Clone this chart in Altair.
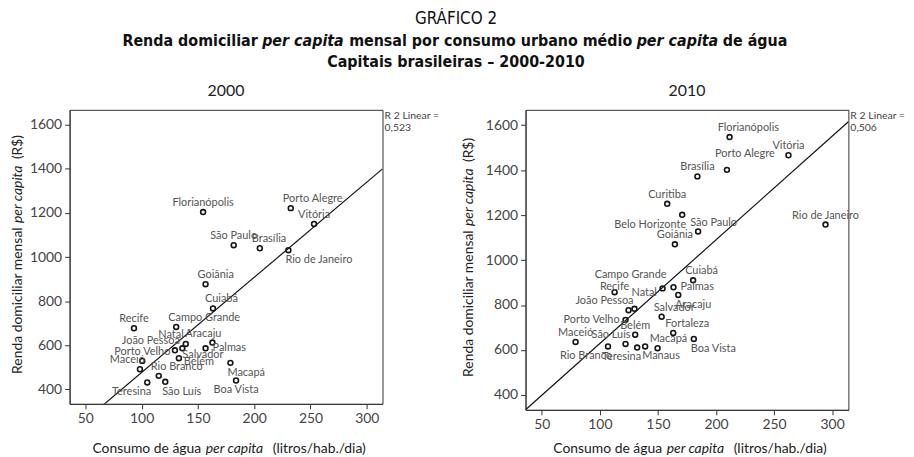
import altair as alt
import pandas as pd

# ---------------- data ----------------
cities_2000 = ["Florianópolis", "Porto Alegre", "Vitória", "São Paulo", "Brasília",
               "Rio de Janeiro", "Goiânia", "Cuiabá", "Recife", "Campo Grande",
               "Natal", "Aracaju", "João Pessoa", "Porto Velho", "Salvador", "Belém",
               "Palmas", "Maceió", "Rio Branco", "Teresina", "São Luís", "Macapá",
               "Boa Vista"]
agua_2000 = [154.6, 232.5, 253.2, 181.8, 205.0, 230.4, 156.8, 163.4, 93.2, 130.7,
             139.2, 162.9, 129.6, 100.6, 136.2, 133.1, 156.8, 98.5, 115.2, 105.0,
             121.0, 178.9, 183.9]
renda_2000 = [1204, 1222, 1150, 1054, 1040, 1031, 877, 767, 677, 683,
              606, 612, 577, 529, 586, 541, 586, 491, 461, 431,
              434, 520, 440]
pos_2000 = ["t", "tr", "t", "t", "tr", "br", "tr", "tr", "t", "tr",
            "tl0", "tl9", "tl", "t", "br0", "rd", "r", "tl", "tr", "bl",
            "br", "br", "b"]

cities_2010 = ["Florianópolis", "Vitória", "Porto Alegre", "Brasília", "Curitiba",
               "Belo Horizonte", "São Paulo", "Rio de Janeiro", "Goiânia", "Cuiabá",
               "Campo Grande", "Palmas", "Aracaju", "Recife", "João Pessoa", "Natal",
               "Salvador", "Porto Velho", "Belém", "Fortaleza", "Maceió", "Rio Branco",
               "São Luís", "Teresina", "Manaus", "Macapá", "Boa Vista"]
agua_2010 = [211.7, 262.4, 209.4, 184.0, 158.0, 170.9, 184.6, 294.3, 164.6, 180.3,
             154.0, 163.4, 167.5, 112.7, 124.7, 129.8, 153.2, 122.1, 130.4, 163.2,
             79.1, 107.0, 122.1, 132.1, 139.0, 149.7, 180.9]
renda_2010 = [1547, 1466, 1401, 1372, 1250, 1201, 1127, 1158, 1070, 910,
              874, 879, 845, 857, 777, 783, 748, 734, 668, 676,
              636, 616, 627, 611, 616, 608, 649]
pos_2010 = ["tr2", "t", "trw", "t", "t", "bl", "tr", "t", "t", "tr",
            "tlh", "r", "br", "t0", "tl", "trh", "tr", "l", "t", "tr",
            "t", "bl", "tl", "bl", "br", "tr", "br"]

# linear fit lines (value of the fitted line at the two ends of the x range)
fit_x = [36, 314]
fit_2000 = [200, 1400]
fit_2010 = [334, 1615]
r2_2000 = "0,523"
r2_2010 = "0,506"

x_domain = [36, 314]
y_domain = [334, 1668]
x_ticks = [50, 100, 150, 200, 250, 300]
y_ticks = [400, 600, 800, 1000, 1200, 1400, 1600]

FONT = "Lato"
TFONT = "DejaVu Sans Condensed"

# label placement: align, dx, dy, baseline
PLACE = {
    "t": ("center", 0, -4, "bottom"),
    "t0": ("center", 0, 0, "bottom"),
    "tr": ("left", -8, -4, "bottom"),
    "tr2": ("left", -12, -4, "bottom"),
    "trh": ("left", -3, -11, "bottom"),
    "trw": ("left", -12, -11, "bottom"),
    "tl": ("right", 5, -4, "bottom"),
    "tl0": ("right", -2, -4, "bottom"),
    "tl9": ("right", 9, -4, "bottom"),
    "tlh": ("right", 4, -8, "bottom"),
    "b": ("center", 0, 4, "top"),
    "br": ("left", -3, 4, "top"),
    "br0": ("left", 0, 1, "top"),
    "bl": ("right", 4, 4, "top"),
    "r": ("left", 7, 0, "middle"),
    "rd": ("left", 5, 4, "middle"),
    "l": ("right", -6, 0, "middle"),
}

ONE = pd.DataFrame({"a": [1]})


def txt(text, x, y, align="center", size=14, weight="normal", style="normal",
        angle=0, font=FONT, color="#222"):
    return alt.Chart(ONE).mark_text(
        text=text, align=align, baseline="middle", fontSize=size, fontWeight=weight,
        fontStyle=style, angle=angle, font=font, color=color).encode(
        x=alt.value(x), y=alt.value(y))


def panel(cities, agua, renda, pos, fit_y, r2, year, w, h, ytitle_x, xtitle_dy, extra=()):
    df = pd.DataFrame({"cidade": cities, "agua": agua, "renda": renda, "pos": pos})
    xenc = alt.X("agua:Q",
                 scale=alt.Scale(domain=x_domain, nice=False, zero=False),
                 axis=alt.Axis(values=x_ticks, title=None, labelPadding=3))
    yenc = alt.Y("renda:Q",
                 scale=alt.Scale(domain=y_domain, nice=False, zero=False),
                 axis=alt.Axis(values=y_ticks, title=None, labelPadding=3, format="d"))
    fit_df = pd.DataFrame({"agua": fit_x, "renda": fit_y})
    fit = alt.Chart(fit_df).mark_line(color="#111", strokeWidth=1.2, clip=True).encode(
        x=xenc, y=yenc)
    pts = alt.Chart(df).mark_point(shape="circle", filled=False, size=24,
                                   strokeWidth=1.6, color="#151515", opacity=1).encode(
        x="agua:Q", y="renda:Q")
    labels = []
    for code, (align, dx, dy, base) in PLACE.items():
        labels.append(
            alt.Chart(df).transform_filter(alt.datum.pos == code).mark_text(
                align=align, dx=dx, dy=dy, baseline=base, font=FONT, fontSize=11,
                color="#555").encode(x="agua:Q", y="renda:Q", text="cidade:N"))
    r2t = alt.Chart(ONE).mark_text(align="left", baseline="top", font=FONT, fontSize=10.5,
                                   color="#444", lineHeight=12,
                                   text=["R 2 Linear =", r2]).encode(
        x=alt.value(w + 2), y=alt.value(1))
    # axis titles with italic "per capita"
    yc = h / 2
    ytit = [
        txt("Renda domiciliar mensal", ytitle_x, yc - 29.6, align="right", angle=270),
        txt("per capita", ytitle_x, yc - 63, style="italic", angle=270),
        txt("(R$)", ytitle_x, yc - 98.4, align="left", angle=270),
    ]
    xc = w / 2
    xy = h + xtitle_dy
    xtit = [
        txt("Consumo de água", xc - 25, xy, align="right"),
        txt("per capita", xc + 8.5, xy, style="italic"),
        txt("(litros/hab./dia)", xc + 47, xy, align="left"),
    ]
    ptitle = txt(year, w / 2, -19, size=16, color="#222")
    return alt.layer(fit, pts, *labels, r2t, *ytit, *xtit, ptitle, *extra).properties(
        width=w, height=h)


# main title (placed relative to the left panel)
X0 = 389
S = X0 - 332.6
main_title = [
    txt("GRÁFICO 2", X0, -91, size=17, font=TFONT, color="#111"),
    txt("Renda domiciliar", S + 133, -69, align="right", size=16, weight="bold", font=TFONT, color="#111"),
    txt("per capita", S + 178.5, -69, size=16, weight="bold", style="italic", font=TFONT, color="#111"),
    txt("mensal por consumo urbano médio", S + 367.5, -69, size=16, weight="bold", font=TFONT, color="#111"),
    txt("per capita", S + 555.5, -69, size=16, weight="bold", style="italic", font=TFONT, color="#111"),
    txt("de água", S + 601.2, -69, align="left", size=16, weight="bold", font=TFONT, color="#111"),
    txt("Capitais brasileiras – 2000-2010", X0, -48, size=16, weight="bold", font=TFONT, color="#111"),
]

left = panel(cities_2000, agua_2000, renda_2000, pos_2000, fit_2000, r2_2000, "2000",
             315, 296, -52, 45, extra=main_title)
right = panel(cities_2010, agua_2010, renda_2010, pos_2010, fit_2010, r2_2010, "2010",
              325, 302, -57, 39)

chart = alt.hconcat(left, right, spacing=144, bounds="flush").properties(
    padding={"left": 2, "top": 0, "right": 0, "bottom": 0}
).configure_view(stroke="#333", strokeWidth=1).configure_axis(
    grid=False, domainColor="#333", tickColor="#333", tickSize=5,
    labelFont=FONT, labelFontSize=14, labelColor="#444",
)

chart.save("out.html", embed_options={"renderer": "svg", "actions": False})
